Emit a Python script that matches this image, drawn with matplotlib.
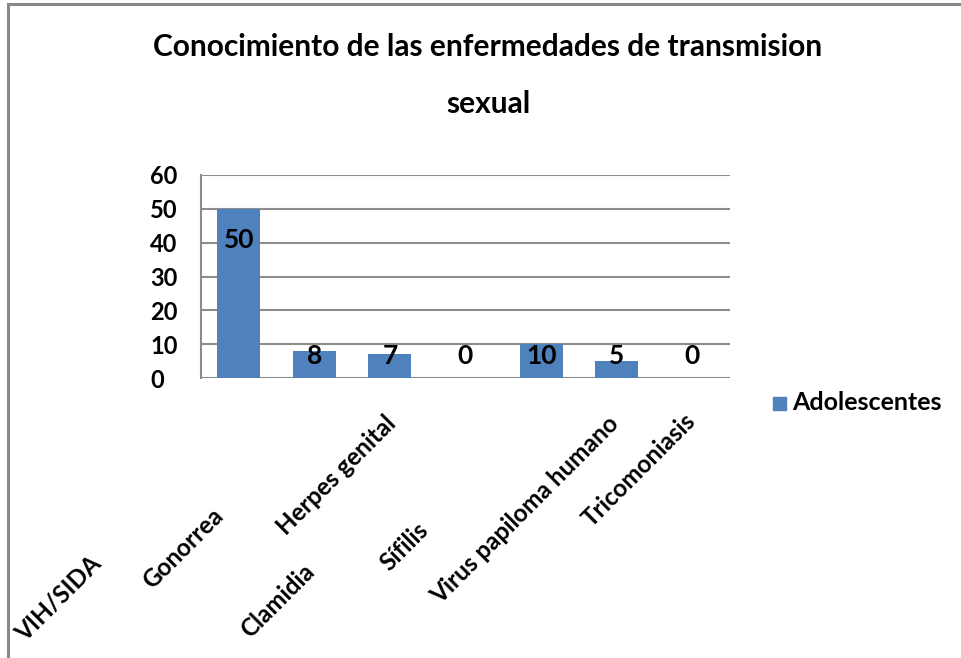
"""Conocimiento de las enfermedades de transmision sexual (bar chart)."""

import matplotlib
matplotlib.use("Agg")
import matplotlib.pyplot as plt
from matplotlib.patches import Rectangle
from matplotlib.lines import Line2D

CATEGORIES = ["VIH/SIDA", "Gonorrea", "Clamidia", "Herpes genital",
              "Sífilis", "Virus papiloma humano", "Tricomoniasis"]
VALUES = [50, 8, 7, 0, 10, 5, 0]
SERIES = "Adolescentes"
Y_TICKS = [0, 10, 20, 30, 40, 50, 60]

BAR_COLOR = "#4F81BD"
GRID_COLOR = "#8C8C8C"
FONT = "Lato"

# Baseline end points (figure pixels, origin top-left) of the staggered labels
LABEL_ENDS = [(103, 565), (225, 517), (316, 573), (397, 425),
              (430, 532), (620, 425), (697, 423)]

W, H = 961, 658
fig = plt.figure(figsize=(W / 100, H / 100), dpi=100)
fig.patch.set_facecolor("white")

# outer chart frame (left and top edges visible)
fig.add_artist(Line2D([8 / W, 8 / W], [0, 1 - 4 / H], color="#888888", lw=2.2))
fig.add_artist(Line2D([8 / W, 1], [1 - 4 / H, 1 - 4 / H], color="#888888", lw=2.2))

ax = fig.add_axes([201 / W, 1 - 378 / H, (730 - 201) / W, (378 - 175) / H])
x = range(len(CATEGORIES))
ax.bar(x, VALUES, width=0.57, color=BAR_COLOR, zorder=3)
ax.set_xlim(-0.5, len(CATEGORIES) - 0.5)
ax.set_ylim(0, 60)
ax.set_yticks(Y_TICKS)
ax.set_yticklabels([str(t) for t in Y_TICKS], fontsize=17, fontweight="bold",
                   family=FONT)
ax.set_xticks([])
ax.tick_params(axis="y", length=0, pad=(201 - 150) * 0.72)
for lbl in ax.get_yticklabels():
    lbl.set_horizontalalignment("left")
ax.grid(axis="y", color=GRID_COLOR, lw=1.5, zorder=0)
for side in ("top", "right", "bottom"):
    ax.spines[side].set_visible(False)
ax.spines["left"].set_color(GRID_COLOR)
ax.spines["left"].set_linewidth(1.5)

for i, v in enumerate(VALUES):
    ax.text(i, max(v - 9.2, 6.5), str(v), ha="center", va="center",
            fontsize=19, fontweight="bold", family=FONT, zorder=4)

for name, (px, py) in zip(CATEGORIES, LABEL_ENDS):
    fig.text(px / W, 1 - py / H, name, rotation=45, rotation_mode="anchor",
             ha="right", va="baseline", fontsize=17.5, fontweight="bold",
             family=FONT)

fig.text(488 / W, 1 - 47 / H, "Conocimiento de las enfermedades de transmision",
         ha="center", va="center", fontsize=21.5, fontweight="bold", family=FONT)
fig.text(488 / W, 1 - 104 / H, "sexual", ha="center", va="center",
         fontsize=21.5, fontweight="bold", family=FONT)

# legend
fig.add_artist(Rectangle((773 / W, 1 - 410 / H), 13 / W, 13 / H,
                         transform=fig.transFigure, color=BAR_COLOR))
fig.text(792 / W, 1 - 403 / H, SERIES, ha="left", va="center", fontsize=18,
         fontweight="bold", family=FONT)

fig.savefig("out.png", dpi=100)
